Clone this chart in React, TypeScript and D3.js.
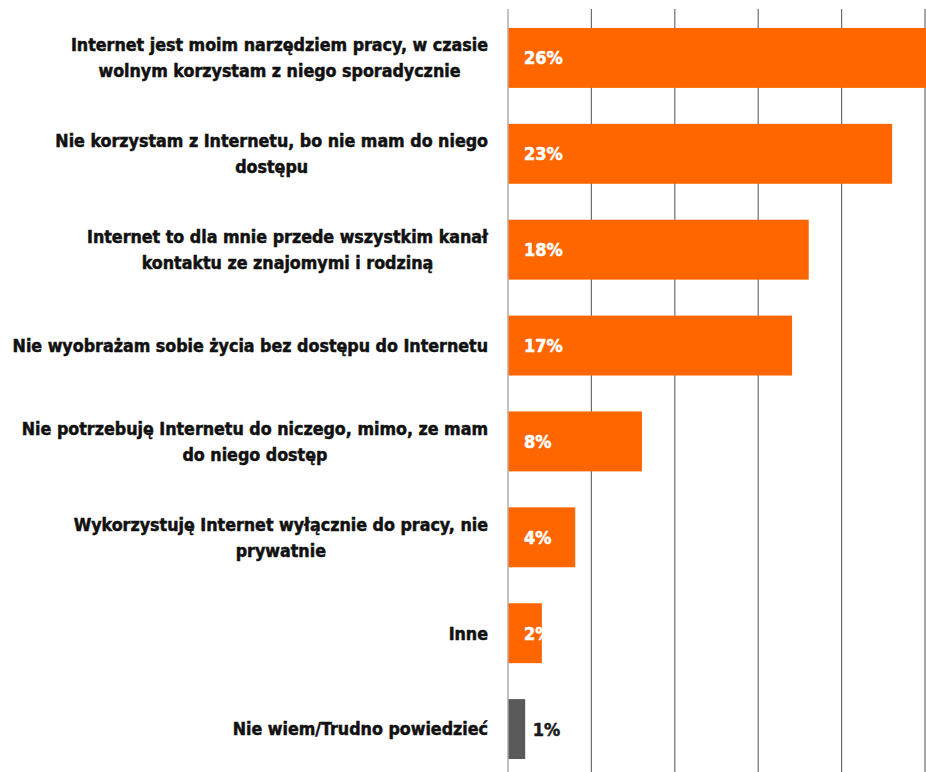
import React, { useEffect, useRef } from "react";
import * as d3 from "d3";

const categories: string[][] = [
  ["Internet jest moim narzędziem pracy, w czasie", "wolnym korzystam z niego sporadycznie"],
  ["Nie korzystam z Internetu, bo nie mam do niego", "dostępu"],
  ["Internet to dla mnie przede wszystkim kanał", "kontaktu ze znajomymi i rodziną"],
  ["Nie wyobrażam sobie życia bez dostępu do Internetu"],
  ["Nie potrzebuję Internetu do niczego, mimo, ze mam", "do niego dostęp"],
  ["Wykorzystuję Internet wyłącznie do pracy, nie", "prywatnie"],
  ["Inne"],
  ["Nie wiem/Trudno powiedzieć"],
];
const values: number[] = [26, 23, 18, 17, 8, 4, 2, 1];
const ticks: number[] = [0, 5, 10, 15, 20, 25];

const W = 926;
const H = 772;
const FONT = "'DejaVu Sans Condensed', 'DejaVu Sans', sans-serif";

export default function App() {
  const ref = useRef<SVGSVGElement>(null);
  useEffect(() => {
    const svg = d3.select(ref.current);
    svg.selectAll("*").remove();
    const x = d3.scaleLinear().domain([0, 25]).range([508, 925]);
    const y = d3
      .scaleBand<number>()
      .domain(d3.range(values.length))
      .range([10, 777])
      .paddingInner(0.375)
      .paddingOuter(0.1875);

    // grid
    svg
      .append("g")
      .selectAll("line")
      .data(ticks)
      .join("line")
      .attr("x1", (d) => x(d))
      .attr("x2", (d) => x(d))
      .attr("y1", 9)
      .attr("y2", H)
      .attr("stroke", (d) => (d === 0 ? "#9a9a9a" : "#6e6e6e"))
      .attr("stroke-width", 1.2);

    // bars
    svg
      .append("g")
      .selectAll("rect")
      .data(values)
      .join("rect")
      .attr("x", x(0) + 0.5)
      .attr("y", (_, i) => y(i)!)
      .attr("width", (d) => x(d) - x(0))
      .attr("height", y.bandwidth())
      .attr("fill", (_, i) => (i === values.length - 1 ? "#595959" : "#FF6600"));

    // value labels
    svg
      .append("g")
      .selectAll("text")
      .data(values)
      .join("text")
      .attr("x", (_, i) => (i === values.length - 1 ? x(values[i]) + 8 : x(0) + 16))
      .attr("y", (_, i) => y(i)! + y.bandwidth() / 2)
      .attr("dy", "0.36em")
      .attr("font-family", FONT)
      .attr("font-weight", "bold")
      .attr("font-size", 18)
      .attr("stroke", (_, i) => (i === values.length - 1 ? "#1a1a1a" : "#ffffff"))
      .attr("stroke-width", 0.5)
      .attr("fill", (_, i) => (i === values.length - 1 ? "#1a1a1a" : "#ffffff"))
      .text((d) => `${d}%`);

    // category labels
    const lab = svg.append("g");
    const rightX = 488;
    const lh = 26;
    categories.forEach((lines, i) => {
      const cy = y(i)! + y.bandwidth() / 2;
      const g = lab.append("g");
      const texts = lines.map((l, k) =>
        g
          .append("text")
          .attr("y", cy + (k - (lines.length - 1) / 2) * lh)
          .attr("dy", "0.36em")
          .attr("font-family", FONT)
          .attr("font-weight", "bold")
          .attr("font-size", 17.7)
          .attr("fill", "#111")
          .attr("stroke", "#111")
          .attr("stroke-width", 0.5)
          .attr("text-anchor", "middle")
          .text(l)
      );
      const widths = texts.map((t) => (t.node() as SVGTextElement).getComputedTextLength());
      const maxW = Math.max(...widths);
      texts.forEach((t) => t.attr("x", rightX - maxW / 2));
    });
  }, []);
  return (
    <svg
      ref={ref}
      width={W}
      height={H}
      style={{ position: "absolute", left: 0, top: 0, background: "#fff" }}
    />
  );
}
